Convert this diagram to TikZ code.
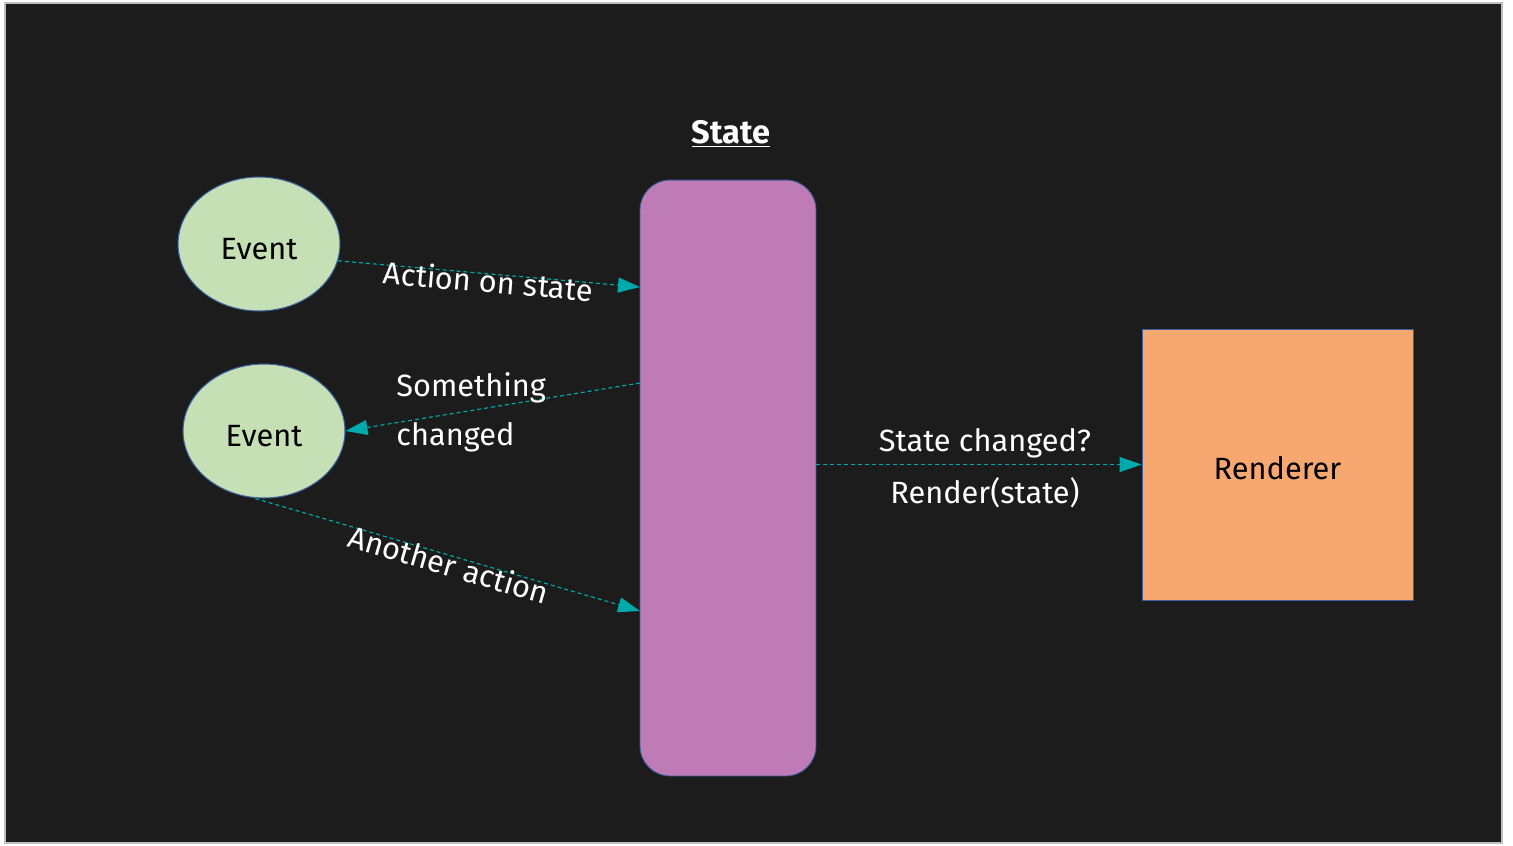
\documentclass[tikz,border=0pt]{standalone}
\usepackage{fontspec}
\setmainfont{Fira Sans}
\usepackage{tikz}
\usetikzlibrary{shapes,positioning,arrows.meta}

\definecolor{bgdark}{HTML}{1C1C1C}
\definecolor{eventgreen}{HTML}{C5E0B4}
\definecolor{statepink}{HTML}{BF7BB5}
\definecolor{renderorange}{HTML}{F7A870}
\definecolor{edgeblue}{HTML}{3B5FA0}
\definecolor{flowteal}{HTML}{00AAAA}

\begin{document}
\begin{tikzpicture}[
	x=0.02cm, y=-0.02cm,
	event/.style={ellipse, draw=edgeblue, line width=0.6pt, fill=eventgreen, minimum width=3.24cm, minimum height=2.68cm, inner sep=0pt, text height=17.5pt, text depth=0pt, font=\fontsize{17.5}{21}\selectfont},
	store/.style={rectangle, rounded corners=0.6cm, draw=edgeblue, line width=0.5pt, fill=statepink, minimum width=3.52cm, minimum height=11.92cm},
	renderbox/.style={rectangle, draw=edgeblue, line width=0.5pt, fill=renderorange, minimum width=5.42cm, minimum height=5.42cm, text height=17.5pt, text depth=0pt, font=\fontsize{17.5}{21}\selectfont},
	flow/.style={-{Triangle[length=0.44cm, width=0.3cm]}, flowteal, line width=0.65pt, dash pattern=on 0.08cm off 0.06cm},
	caption/.style={text=white, font=\fontsize{17.5}{21}\selectfont, inner sep=0pt}
	]

	% page and dark slide
	\useasboundingbox[fill=white] (0,0) rectangle (1513,845);
	\draw[fill=bgdark, draw=black!25, line width=1pt] (5,3) rectangle (1502,843);

	\node[text=white, font=\fontsize{18.5}{22}\bfseries] (title) at (731,134) {\underline{State}};

	\node[event] (ev1) at (259,244) {Event};
	\node[event] (ev2) at (264,431) {Event};
	\node[store] (state) at (728,478) {};
	\node[renderbox] (rend) at (1277.5,464.5) {Renderer};

	% entry points on the state column
	\coordinate (inA) at (640,287);
	\coordinate (outB) at (640,383);
	\coordinate (inC) at (640,611);

	\draw[flow] (ev1.-12) -- node[caption, sloped, pos=0.5, yshift=-4pt] {Action on state} (inA);
	\draw[flow] (outB) -- (ev2.east);
	\node[caption, anchor=west] (lblB1) at (396,388) {Something};
	\node[caption, anchor=west] (lblB2) at (396,437) {changed};
	\draw[flow] ([xshift=-5pt]ev2.south) -- node[caption, sloped, pos=0.51, yshift=-5pt] {Another action} (inC);

	\draw[flow] (rend.west -| state.east) -- (rend.west);
	\node[caption] (lblD1) at (985,443) {State changed?};
	\node[caption] (lblD2) at (985,493) {Render(state)};

\end{tikzpicture}
\end{document}
